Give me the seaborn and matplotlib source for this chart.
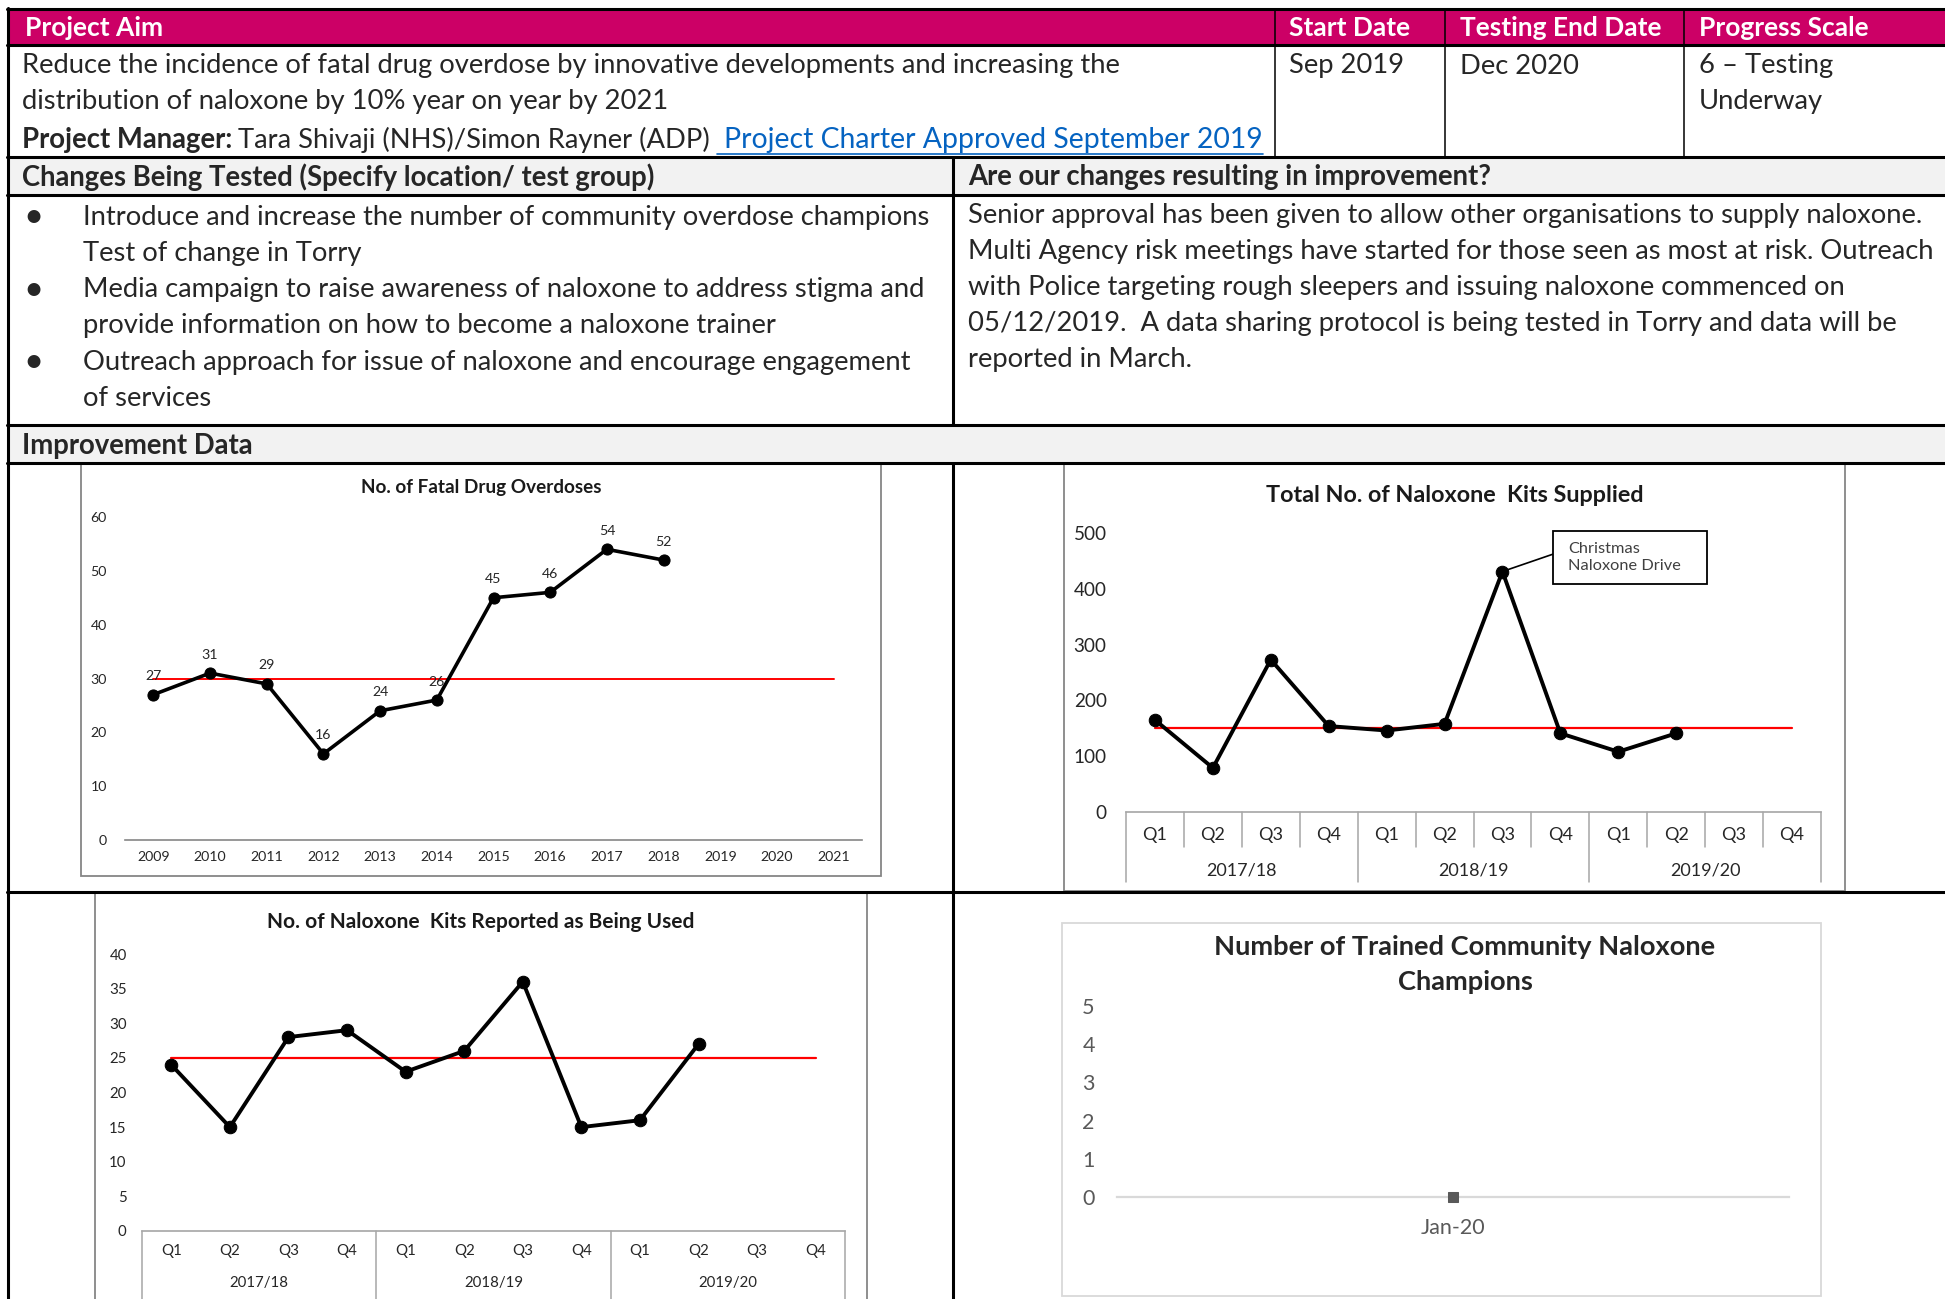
import numpy as np
import matplotlib
matplotlib.use('Agg')
import matplotlib.pyplot as plt
import matplotlib.transforms as mtransforms
from matplotlib.lines import Line2D
from matplotlib.patches import Rectangle
import seaborn as sns

# ---- data ----
overdose_years = ['2009', '2010', '2011', '2012', '2013', '2014', '2015',
                  '2016', '2017', '2018', '2019', '2020', '2021']
overdose_counts = [27, 31, 29, 16, 24, 26, 45, 46, 54, 52]
overdose_line = 30

quarters = ['Q1', 'Q2', 'Q3', 'Q4'] * 3
fin_years = ['2017/18', '2018/19', '2019/20']
kits_supplied = [165, 79, 273, 154, 146, 158, 431, 141, 108, 141]
kits_supplied_line = 150
kits_used = [24, 15, 28, 29, 23, 26, 36, 15, 16, 27]
kits_used_line = 25

champion_months = ['Jan-20']
champion_counts = [0]

header_cols = ['Project Aim', 'Start Date', 'Testing End Date', 'Progress Scale']
aim_lines = ['Reduce the incidence of fatal drug overdose by innovative developments and increasing the',
             'distribution of naloxone by 10% year on year by 2021']
start_date = 'Sep 2019'
end_date = 'Dec 2020'
progress_lines = ['6 \u2013 Testing', 'Underway']
manager = 'Tara Shivaji (NHS)/Simon Rayner (ADP)'
charter_link = 'Project Charter Approved September 2019'
changes = [['Introduce and increase the number of community overdose champions', 'Test of change in Torry'],
           ['Media campaign to raise awareness of naloxone to address stigma and',
            'provide information on how to become a naloxone trainer'],
           ['Outreach approach for issue of naloxone and encourage engagement', 'of services']]
improvement_lines = ['Senior approval has been given to allow other organisations to supply naloxone.',
                     'Multi Agency risk meetings have started for those seen as most at risk. Outreach',
                     'with Police targeting rough sleepers and issuing naloxone commenced on',
                     '05/12/2019.  A data sharing protocol is being tested in Torry and data will be',
                     'reported in March.']

W, H = 1945, 1299
PINK = '#CC0066'
GREY_BG = '#F2F2F2'
FRAME = '#868686'
BODY = 19.7
HEAD = 19.0
SUBHEAD = 19.8

sns.set_style('white')
plt.rcParams['font.family'] = ['Lato', 'DejaVu Sans']

fig = plt.figure(figsize=(W / 100, H / 100), dpi=100)
fig.patch.set_facecolor('white')


def fx(x):
    return x / W


def fy(y):
    return 1 - y / H


def hline(y, x0=7, x1=W, lw=2.2, color='black'):
    fig.add_artist(Line2D([fx(x0), fx(x1)], [fy(y), fy(y)], lw=lw, color=color,
                          transform=fig.transFigure, zorder=5))


def vline(x, y0, y1, lw=2.2, color='black'):
    fig.add_artist(Line2D([fx(x), fx(x)], [fy(y0), fy(y1)], lw=lw, color=color,
                          transform=fig.transFigure, zorder=5))


def rect(x0, y0, x1, y1, fc='none', ec='none', lw=0):
    fig.add_artist(Rectangle((fx(x0), fy(y1)), fx(x1) - fx(x0), fy(y0) - fy(y1),
                             transform=fig.transFigure, fc=fc, ec=ec, lw=lw, zorder=-1))


def txt(x, y, s, size=BODY, **kw):
    kw.setdefault('ha', 'left')
    kw.setdefault('va', 'center')
    return fig.text(fx(x), fy(y), s, fontsize=size, **kw)


def axes_at(x0, y0, x1, y1):
    ax = fig.add_axes([fx(x0), fy(y1), fx(x1) - fx(x0), fy(y0) - fy(y1)])
    ax.set_facecolor('none')
    return ax


def style(ax, size, color='#262626', spine=FRAME):
    for side in ['left', 'top', 'right']:
        ax.spines[side].set_visible(False)
    ax.spines['bottom'].set_color(spine)
    ax.spines['bottom'].set_linewidth(1.2)
    ax.tick_params(axis='both', length=0, labelsize=size, labelcolor=color)
    ax.set_xlabel('')
    ax.set_ylabel('')
    ax.grid(False)


# ---- table backgrounds and rules ----
rect(8, 9, W, 45, fc=PINK)
rect(8, 157, W, 195, fc=GREY_BG)
rect(8, 425, W, 463, fc=GREY_BG)
for y in [9, 45, 157, 195, 425, 463, 892]:
    hline(y)
vline(8, 8, H)
vline(953, 157, 425)
vline(953, 463, H)
for x in [1275, 1445, 1684]:
    vline(x, 9, 157, lw=1.1)

# ---- table text ----
for x, s in zip([25, 1289, 1460, 1699], header_cols):
    txt(x, 28, s, size=HEAD, color='white', weight='bold')
for i, s in enumerate(aim_lines):
    txt(22, 66 + 36 * i, s)
txt(1289, 66, start_date)
txt(1460, 66, end_date)
for i, s in enumerate(progress_lines):
    txt(1699, 66 + 36 * i, s)

r = fig.canvas.get_renderer()
t = txt(22, 140, 'Project Manager:', size=SUBHEAD, weight='bold')
x_next = t.get_window_extent(r).x1 + 6
t = txt(x_next, 140, manager)
x_next = t.get_window_extent(r).x1 + 7
t = txt(x_next + 7, 140, charter_link, color='#0563C1', size=20.4)
bb = t.get_window_extent(r)
hline(154, x_next, bb.x1, lw=1.2, color='#0563C1')

txt(22, 177, 'Changes Being Tested (Specify location/ test group)', size=SUBHEAD, weight='bold')
txt(968, 177, 'Are our changes resulting in improvement?', size=SUBHEAD, weight='bold')
row = 0
for item in changes:
    txt(23, 217 + 36.3 * row, '\u2022', size=25)
    for line in item:
        txt(83, 217 + 36.3 * row, line)
        row += 1
for i, s in enumerate(improvement_lines):
    txt(968, 216 + 35.9 * i, s)
txt(22, 446, 'Improvement Data', size=SUBHEAD, weight='bold')

# ---- chart frames ----
rect(81, 463, 881, 876, ec=FRAME, lw=1.3)
rect(1064, 463, 1845, 891, ec=FRAME, lw=1.3)
rect(95, 893, 867, H + 5, ec=FRAME, lw=1.3)
rect(1062, 923, 1821, 1296, ec='#D9D9D9', lw=1.3)

# ---- chart 1: fatal drug overdoses ----
ax1 = axes_at(125, 517, 862, 840)
ax1.plot([0, len(overdose_years) - 1], [overdose_line] * 2, color='red', lw=1.4, zorder=1)
sns.lineplot(x=np.arange(len(overdose_counts)), y=overdose_counts, ax=ax1, color='black',
             linewidth=2.6, marker='o', markersize=8, markeredgecolor='black', zorder=3)
for i, v in enumerate(overdose_counts):
    ax1.annotate(str(v), (i, v), xytext=(0, 9), textcoords='offset points',
                 ha='center', va='bottom', fontsize=10.2, color='#262626')
ax1.set_xlim(-0.5, len(overdose_years) - 0.5)
ax1.set_ylim(0, 60)
ax1.set_yticks(range(0, 61, 10))
ax1.set_xticks(range(len(overdose_years)))
ax1.set_xticklabels(overdose_years)
style(ax1, 10.2)
ax1.set_xticks(np.arange(-0.5, len(overdose_years)), minor=True)
ax1.tick_params(axis='x', which='minor', length=4, color=FRAME, width=1)
ax1.tick_params(axis='x', pad=8)
ax1.tick_params(axis='y', pad=13)
txt(481, 488, 'No. of Fatal Drug Overdoses', size=13.6, weight='bold', ha='center', color='#1a1a1a')


# ---- quarterly charts with two-level category axis ----
def quarterly(ax, values, ref, top, bottom, yr_y, q_sep, yr_sep, size, inner_seps):
    n = len(quarters)
    ax.plot([0, n - 1], [ref] * 2, color='red', lw=1.6, zorder=1)
    sns.lineplot(x=np.arange(len(values)), y=values, ax=ax, color='black', linewidth=2.8,
                 marker='o', markersize=9, markeredgecolor='black', zorder=3)
    ax.set_xlim(-0.5, n - 0.5)
    ax.set_ylim(0, top)
    ax.set_xticks(range(n))
    ax.set_xticklabels(quarters)
    style(ax, size, spine='#A6A6A6')
    tr = mtransforms.blended_transform_factory(ax.transData, fig.transFigure)
    for k, yr in enumerate(fin_years):
        ax.text(4 * k + 1.5, fy(yr_y), yr, transform=tr, ha='center', va='center',
                fontsize=size, color='#262626')
    for k in range(n + 1):
        if k % 4 == 0:
            end = yr_sep
        elif inner_seps:
            end = q_sep
        else:
            continue
        ax.plot([k - 0.5] * 2, [fy(bottom), fy(end)], transform=tr, clip_on=False,
                color='#A6A6A6', lw=1.1)
    return ax


ax2 = axes_at(1126, 533, 1821, 812)
quarterly(ax2, kits_supplied, kits_supplied_line, 500, 812, 871, 847, 882, 13, True)
ax2.set_yticks(range(0, 501, 100))
ax2.tick_params(axis='x', pad=11)
ax2.tick_params(axis='y', labelsize=13.6, pad=14)
# call-out box for the Q3 2018/19 spike
ax2.add_patch(Rectangle((6.87, 408), 2.66, 96, fc='white', ec='black', lw=1.3,
                        clip_on=False, zorder=4))
ax2.annotate('', xy=(6, kits_supplied[6]), xytext=(6.87, 462),
             arrowprops=dict(arrowstyle='-', color='black', lw=1.2, shrinkA=0, shrinkB=0))
ax2.text(7.13, 456, 'Christmas\nNaloxone Drive', ha='left', va='center', fontsize=11.8,
         color='#404040', linespacing=1.3, zorder=5)
txt(1455, 496, 'Total No. of Naloxone  Kits Supplied', size=16.8, weight='bold', ha='center',
    color='#1a1a1a')

ax3 = axes_at(142, 954, 845, 1231)
quarterly(ax3, kits_used, kits_used_line, 40, 1231, 1283, 1260, H, 10.8, False)
ax3.set_yticks(range(0, 41, 5))
ax3.tick_params(axis='x', pad=9)
ax3.tick_params(axis='y', pad=11)
txt(481, 922, 'No. of Naloxone  Kits Reported as Being Used', size=15, weight='bold',
    ha='center', color='#1a1a1a')

# ---- chart 4: trained champions ----
ax4 = axes_at(1117, 1006, 1789, 1197)
sns.lineplot(x=np.arange(len(champion_counts)), y=champion_counts, ax=ax4, color='#595959',
             marker='s', markersize=7, markeredgecolor='#595959')
for ln in ax4.lines:
    ln.set_zorder(4)
    ln.set_clip_on(False)
ax4.set_xlim(-0.5, len(champion_counts) - 0.5)
ax4.set_ylim(0, 5)
ax4.set_yticks(range(0, 6))
ax4.set_xticks(range(len(champion_months)))
ax4.set_xticklabels(champion_months)
style(ax4, 15.5, color='#595959', spine='#D9D9D9')
ax4.spines['bottom'].set_linewidth(1.6)
ax4.tick_params(axis='x', pad=15)
ax4.tick_params(axis='y', pad=16)
txt(1465, 947, 'Number of Trained Community Naloxone', size=19.6, weight='bold', ha='center')
txt(1465, 982, 'Champions', size=19.6, weight='bold', ha='center')

fig.savefig('out.png', dpi=100)
